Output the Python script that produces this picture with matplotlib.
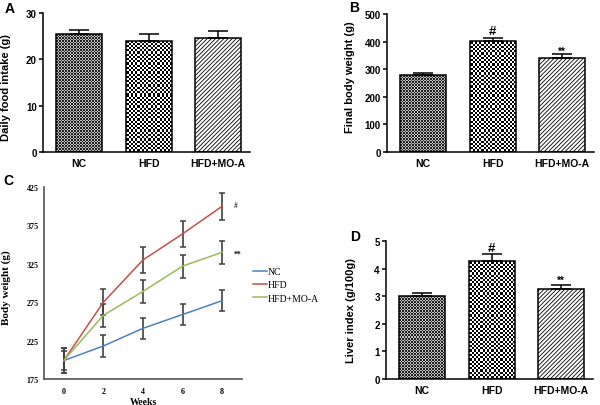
import numpy as np
import matplotlib
matplotlib.use('Agg')
import matplotlib.pyplot as plt
from matplotlib.colors import ListedColormap

# bar panels
groups = ['NC', 'HFD', 'HFD+MO-A']
food_intake = [25.4, 24.0, 24.6]
food_intake_err = [0.9, 1.4, 1.6]
final_weight = [278, 401, 341]
final_weight_err = [9, 12, 13]
liver_index = [3.02, 4.27, 3.27]
liver_index_err = [0.10, 0.25, 0.15]
weight_marks = ['', '#', '**']
liver_marks = ['', '#', '**']

# line panel
weeks = [0, 2, 4, 6, 8]
bw_nc = [199, 218, 241, 259, 277]
bw_nc_err = [12, 14, 14, 14, 14]
bw_hfd = [199, 275, 330, 364, 400]
bw_hfd_err = [16, 17, 17, 17, 17.5]
bw_mo = [199, 258, 289, 322, 340]
bw_mo_err = [16, 15, 15.5, 15, 15]
line_marks = ['#', '**']

SANS = 'Liberation Sans'
SERIF = 'Liberation Serif'
W, H = 600, 406


def axes_px(fig, left, top, width, height):
    return fig.add_axes([left / W, 1 - (top + height) / H, width / W, height / H])


def checker(ax, bar, cell, c1, c2):
    # checkerboard texture at screen resolution, clipped to the bar
    x0, x1 = bar.get_x(), bar.get_x() + bar.get_width()
    h = bar.get_height()
    (px0, py0), (px1, py1) = ax.transData.transform([[x0, 0], [x1, h]])
    nx = max(1, int(round(px1 - px0)))
    ny = max(1, int(round(py1 - py0)))
    ii = np.floor(np.arange(ny) / cell).astype(int)
    jj = np.floor(np.arange(nx) / cell).astype(int)
    arr = np.add.outer(ii, jj) % 2
    im = ax.imshow(arr, extent=[x0, x1, 0, h], cmap=ListedColormap([c1, c2]),
                   interpolation='nearest', aspect='auto', zorder=1)
    im.set_clip_path(bar)


def bar_panel(fig, rect, vals, errs, ylim, yticks, ylabel, label_xy, marks=None, mark_off=None):
    ax = axes_px(fig, *rect)
    x = np.arange(len(groups))
    xlim = (-0.52, 2.46)
    ax.set_xlim(*xlim)
    ax.set_ylim(*ylim)
    bars = ax.bar(x, vals, width=0.66, facecolor='none', edgecolor='black', linewidth=1.1, zorder=2)
    checker(ax, bars[0], 1.5, '#1e1e1e', '#c4c4c4')
    checker(ax, bars[1], 2.2, 'black', 'white')
    bars[2].set_hatch('////////')
    bars[2].set_facecolor('white')
    ax.errorbar(x, vals, yerr=[np.zeros(len(errs)), errs], fmt='none', ecolor='black',
                elinewidth=1.1, capsize=7, capthick=1.1, zorder=3)
    ax.set_xlim(*xlim)
    ax.set_ylim(*ylim)
    ax.set_yticks(yticks)
    ax.set_xticks(x)
    ax.set_xticklabels(groups, fontsize=7.5, fontweight='bold', family=SANS)
    for t in ax.get_yticklabels():
        t.set_fontsize(7)
        t.set_fontweight('bold')
        t.set_family(SANS)
    ax.tick_params(axis='x', length=0, pad=4)
    ax.tick_params(axis='y', length=3, width=1.1, pad=1.5)
    for s in ['top', 'right']:
        ax.spines[s].set_visible(False)
    for s in ['left', 'bottom']:
        ax.spines[s].set_linewidth(1.1)
    ax.set_ylabel(ylabel, fontsize=8, fontweight='bold', family=SANS)
    ax.yaxis.set_label_coords(*label_xy)
    if marks:
        for xi, v, e, m in zip(x, vals, errs, marks):
            if m == '#':
                ax.annotate(m, (xi, v + e), xytext=(0, mark_off[0]), textcoords='offset points',
                            ha='center', va='bottom', fontsize=9.5, fontweight='bold', family=SANS)
            elif m:
                ax.annotate(m, (xi, v + e), xytext=(0, mark_off[1]), textcoords='offset points',
                            ha='center', va='bottom', fontsize=7, fontweight='bold', family=SANS)
    return ax


fig = plt.figure(figsize=(6.0, 4.06), dpi=100)
plt.rcParams['hatch.linewidth'] = 0.6

bar_panel(fig, (43, 14, 207, 139), food_intake, food_intake_err, (0, 30), [0, 10, 20, 30],
          'Daily food intake (g)', (-0.157, 0.47))
bar_panel(fig, (387, 15, 207, 138), final_weight, final_weight_err, (0, 500), [0, 100, 200, 300, 400, 500],
          'Final body weight (g)', (-0.155, 0.55), weight_marks, (1, -1))
bar_panel(fig, (386, 242, 207, 138), liver_index, liver_index_err, (0, 5), [0, 1, 2, 3, 4, 5],
          'Liver index (g/100g)', (-0.147, 0.5), liver_marks, (0, 0))

# panel C
ax = axes_px(fig, 44, 188, 198, 192)
series = [('NC', bw_nc, bw_nc_err, '#4F81BD'),
          ('HFD', bw_hfd, bw_hfd_err, '#C0504D'),
          ('HFD+MO-A', bw_mo, bw_mo_err, '#9BBB59')]
handles = []
for name, vals, errs, col in series:
    ax.errorbar(weeks, vals, yerr=errs, fmt='none', ecolor='#404040', elinewidth=1.2,
                capsize=2.2, capthick=1.1, zorder=2)
    h, = ax.plot(weeks, vals, color=col, lw=1.1, label=name, zorder=3)
    handles.append(h)
ax.set_xlim(-1, 9)
ax.set_ylim(175, 425)
ax.set_yticks([175, 225, 275, 325, 375, 425])
ax.set_xticks(weeks)
ax.tick_params(length=0, labelsize=5.8)
ax.tick_params(axis='x', pad=6)
ax.tick_params(axis='y', pad=4)
for t in ax.get_xticklabels() + ax.get_yticklabels():
    t.set_family(SERIF)
    t.set_fontweight('bold')
for s in ['top', 'right']:
    ax.spines[s].set_visible(False)
for s in ['left', 'bottom']:
    ax.spines[s].set_linewidth(1.2)
    ax.spines[s].set_color('#555555')
ax.set_ylabel('Body weight (g)', fontsize=8, fontweight='bold', family=SERIF)
ax.yaxis.set_label_coords(-0.165, 0.48)
ax.set_xlabel('Weeks', fontsize=7, fontweight='bold', family=SERIF, labelpad=1)
ax.annotate(line_marks[0], (weeks[-1], bw_hfd[-1]), xytext=(10, 1), textcoords='offset points',
            ha='center', va='center', fontsize=5.5, family=SERIF)
ax.annotate(line_marks[1], (weeks[-1], bw_mo[-1]), xytext=(11, -1), textcoords='offset points',
            ha='center', va='center', fontsize=5.5, fontweight='bold', family=SERIF)
fig.legend(handles=handles, loc='upper left', bbox_to_anchor=(253 / W, 1 - 268 / H),
           frameon=False, prop={'family': SERIF, 'size': 7}, handlelength=1.45,
           handletextpad=0.1, labelspacing=0.45, borderpad=0, borderaxespad=0)

# panel letters
for letter, (lx, ly) in zip('ABCD', [(10, 9), (354, 8), (8, 181), (355, 237)]):
    fig.text(lx / W, 1 - ly / H, letter, fontsize=10, fontweight='bold', family=SANS,
             ha='center', va='center')

fig.savefig('out.png', dpi=100)
